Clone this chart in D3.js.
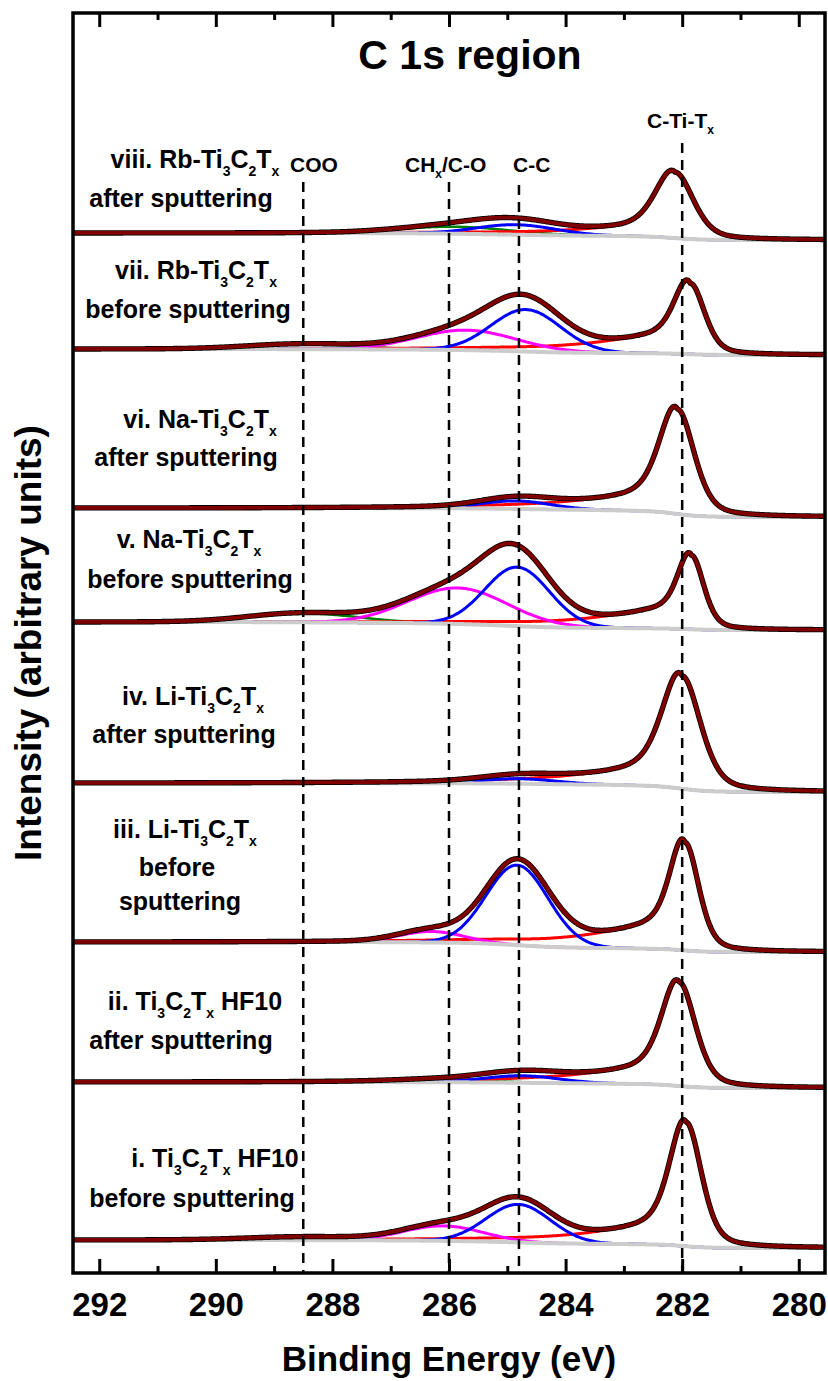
<!DOCTYPE html>
<html><head><meta charset="utf-8">
<script src="https://cdn.jsdelivr.net/npm/d3@7"></script>
<style>
body{margin:0;background:#fff}
text{font-family:"Liberation Sans",Arial,Helvetica,sans-serif;font-weight:bold;fill:#000}
</style>
</head><body>
<svg id="chart" width="828" height="1381"></svg>
<script>
// ---------------- data ----------------
// panels listed bottom (i) to top (viii)
const panelIds   = ["i", "ii", "iii", "iv", "v", "vi", "vii", "viii"];
const panelLines = [
  ["i. Ti_3C_2T_x HF10", "before sputtering"],
  ["ii. Ti_3C_2T_x HF10", "after sputtering"],
  ["iii. Li-Ti_3C_2T_x", "before", "sputtering"],
  ["iv. Li-Ti_3C_2T_x", "after sputtering"],
  ["v. Na-Ti_3C_2T_x", "before sputtering"],
  ["vi. Na-Ti_3C_2T_x", "after sputtering"],
  ["vii. Rb-Ti_3C_2T_x", "before sputtering"],
  ["viii. Rb-Ti_3C_2T_x", "after sputtering"]
];
// Shirley background: level on the low-BE side and step height (arb. units)
const bgLow  = [25, 185, 321, 481, 643, 756, 918, 1033];
const bgStep = [8, 6, 10, 9, 8, 9, 6, 7];
// C-Ti-Tx component (red)
const ctiCenter = [281.93, 282.05, 281.95, 282.00, 281.84, 282.08, 281.86, 282.12];
const ctiHeight = [124, 104, 108, 113, 74, 105, 71, 66];
const ctiFwhm   = [0.62, 0.66, 0.56, 0.75, 0.50, 0.68, 0.58, 0.74];
const ctiTail   = [0.22, 0.22, 0.32, 0.22, 0.38, 0.22, 0.38, 0.22];
// C-C component (blue)
const ccCenter = [284.81, 284.75, 284.83, 284.80, 284.83, 284.85, 284.68, 284.85];
const ccHeight = [38, 7, 80, 5, 59, 8, 42, 10];
const ccFwhm   = [1.30, 1.50, 1.25, 1.50, 1.30, 1.40, 1.40, 1.60];
// CHx/C-O component (magenta)
const chxCenter = [286.10, 286.00, 286.30, 286.00, 285.85, 286.00, 285.70, 286.00];
const chxHeight = [15, 0, 11, 0, 36, 0, 20, 0];
const chxFwhm   = [1.60, 1.60, 1.30, 1.60, 2.00, 1.60, 2.00, 1.60];
// COO / extra component (green)
const cooCenter = [288.5, 286.0, 288.5, 288.5, 288.5, 288.5, 288.5, 285.9];
const cooHeight = [3, 2, 0, 0, 9, 0, 5, 7];
const cooFwhm   = [2.2, 2.0, 2.2, 2.2, 2.2, 2.2, 2.2, 2.2];
// reference binding energies (dashed lines) and their labels
const refEnergy = [288.5, 286.0, 284.8, 282.0];
const refLabel  = ["COO", "CH_x/C-O", "C-C", "C-Ti-T_x"];
// axis
const majorTicks = [292, 290, 288, 286, 284, 282, 280];
const minorTicks = [291, 289, 287, 285, 283, 281];
const titleText = "C 1s region";
const xTitle = "Binding Energy (eV)";
const yTitle = "Intensity (arbitrary units)";

// ---------------- layout ----------------
const L = 73, R = 825, T = 13, B = 1273;
// label layout per panel: [centerX, baselineY] per line
const labelLayout = [
  [[215, 1167], [192, 1207]],
  [[195, 1010], [181, 1049]],
  [[185, 838], [177, 876], [180, 910]],
  [[193, 705], [184, 743]],
  [[189, 548], [190, 588]],
  [[200, 428], [186, 466]],
  [[196, 279], [188, 318]],
  [[195, 168], [181, 207]]
];
const refLabelLayout = [[290, 172], [405, 172], [513, 172], [647, 128]];
const refLineTop = [182, 182, 185, 143];

const svg = d3.select("#chart");
const x = d3.scaleLinear().domain([292.45, 279.55]).range([L, R]);
const y = d3.scaleLinear().domain([0, 1260]).range([B, T]);

svg.append("defs").append("clipPath").attr("id", "clip")
  .append("rect").attr("x", L).attr("y", T).attr("width", R - L).attr("height", B - T);

// ---------------- peak model ----------------
const LN2 = Math.log(2);
function gauss(E, c, h, w) { if (!h) return 0; const d = (E - c) / (w / 2); return h * Math.exp(-LN2 * d * d); }
function cti(E, c, h, w, a) {
  const d = E - c, u = d / (w / 2);
  const core = 0.6 * Math.exp(-LN2 * u * u) + 0.4 / (1 + u * u);
  const tail = d > 0 ? a * (1 - Math.exp(-d / 0.25)) * Math.exp(-d / 1.6) : 0;
  return h * (core + tail);
}
const grid = d3.range(279.4, 292.6, 0.02);

const gCurves = svg.append("g").attr("clip-path", "url(#clip)");
const line = d3.line().x(d => x(d.E)).y(d => y(d.v));

panelIds.forEach((id, p) => {
  const rows = grid.map(E => {
    const coo = gauss(E, cooCenter[p], cooHeight[p], cooFwhm[p]);
    const chx = gauss(E, chxCenter[p], chxHeight[p], chxFwhm[p]);
    const cc  = gauss(E, ccCenter[p], ccHeight[p], ccFwhm[p]);
    const ct  = cti(E, ctiCenter[p], ctiHeight[p], ctiFwhm[p], ctiTail[p]);
    return { E, coo, chx, cc, ct, sum: coo + chx + cc + ct };
  });
  let cum = 0; rows.forEach(r => { cum += r.sum; r.cum = cum; });
  rows.forEach(r => { r.bg = bgLow[p] + bgStep[p] * r.cum / cum; });

  const g = gCurves.append("g").attr("class", "panel-" + id);
  const path = (key, color, width) => {
    g.append("path").datum(rows.map(r => ({ E: r.E, v: r.bg + r[key] })))
      .attr("d", line)
      .attr("fill", "none").attr("stroke", color).attr("stroke-width", width)
      .attr("stroke-linejoin", "round");
  };
  if (cooHeight[p]) path("coo", "#008000", 2.5);
  path("ct", "#ff0000", 3);
  if (chxHeight[p]) path("chx", "#ff00ff", 3);
  path("cc", "#0000ff", 3);
  g.append("path").datum(rows.map(r => ({ E: r.E, v: r.bg })))
    .attr("d", line).attr("fill", "none").attr("stroke", "#cccccc").attr("stroke-width", 4);
  const env = rows.map(r => ({ E: r.E, v: r.bg + r.sum }));
  g.append("path").datum(env).attr("d", line)
    .attr("fill", "none").attr("stroke", "#000").attr("stroke-width", 5.4).attr("stroke-linejoin", "round");
  g.append("path").datum(env).attr("d", line)
    .attr("fill", "none").attr("stroke", "#800000").attr("stroke-width", 3.8).attr("stroke-linejoin", "round");
});

// ---------------- dashed reference lines ----------------
refEnergy.forEach((e, i) => {
  svg.append("line").attr("x1", x(e)).attr("x2", x(e)).attr("y1", refLineTop[i]).attr("y2", B)
    .attr("stroke", "#000").attr("stroke-width", 2.5).attr("stroke-dasharray", "10,7");
});

// ---------------- text helper with subscripts ----------------
function richText(sel, str, fs, subDy) {
  const parts = str.split(/_(.)/);
  let pending = 0;
  parts.forEach((s, i) => {
    if (!s) return;
    if (i % 2 === 1) {
      sel.append("tspan").attr("font-size", Math.round(fs * 0.56) + "px").attr("dy", subDy + pending).text(s);
      pending = -subDy;
    } else {
      const t = sel.append("tspan").text(s);
      if (pending) { t.attr("dy", pending); pending = 0; }
    }
  });
}

panelLines.forEach((lines, p) => {
  lines.forEach((t, j) => {
    const [cx, by] = labelLayout[p][j];
    const txt = svg.append("text").attr("x", cx).attr("y", by).attr("text-anchor", "middle")
      .attr("font-size", "25px");
    richText(txt, t, 25, 8);
  });
});

refLabel.forEach((t, i) => {
  const [lx, by] = refLabelLayout[i];
  const txt = svg.append("text").attr("x", lx).attr("y", by).attr("font-size", "21px");
  richText(txt, t, 21, 6);
});

svg.append("text").attr("x", 470).attr("y", 69).attr("text-anchor", "middle")
  .attr("font-size", "41px").text(titleText);

// ---------------- axes ----------------
const axB = svg.append("g").attr("transform", `translate(0,${B})`)
  .call(d3.axisBottom(x).tickValues(majorTicks).tickSize(-14).tickPadding(20).tickFormat(d3.format("d")));
const axBm = svg.append("g").attr("transform", `translate(0,${B})`)
  .call(d3.axisBottom(x).tickValues(minorTicks).tickSize(-7).tickFormat(""));
const axT = svg.append("g").attr("transform", `translate(0,${T})`)
  .call(d3.axisTop(x).tickValues(majorTicks).tickSize(-14).tickFormat(""));
const axTm = svg.append("g").attr("transform", `translate(0,${T})`)
  .call(d3.axisTop(x).tickValues(minorTicks).tickSize(-7).tickFormat(""));
[axB, axBm, axT, axTm].forEach(a => {
  a.select(".domain").remove();
  a.selectAll(".tick line").attr("stroke", "#000").attr("stroke-width", 3);
});
[axBm, axT, axTm].forEach(a => a.selectAll(".tick text").remove());
axB.selectAll(".tick text").attr("font-size", "33px")
  .style("font-family", '"Liberation Sans",Arial,sans-serif').style("font-weight", "bold").attr("fill", "#000");

svg.append("rect").attr("x", L).attr("y", T).attr("width", R - L).attr("height", B - T)
  .attr("fill", "none").attr("stroke", "#000").attr("stroke-width", 3.5);

svg.append("text").attr("x", (L + R) / 2).attr("y", 1371).attr("text-anchor", "middle")
  .attr("font-size", "35px").text(xTitle);
svg.append("text").attr("transform", `translate(41,${(T + B) / 2}) rotate(-90)`)
  .attr("text-anchor", "middle").attr("font-size", "37px").text(yTitle);
</script>
</body></html>
